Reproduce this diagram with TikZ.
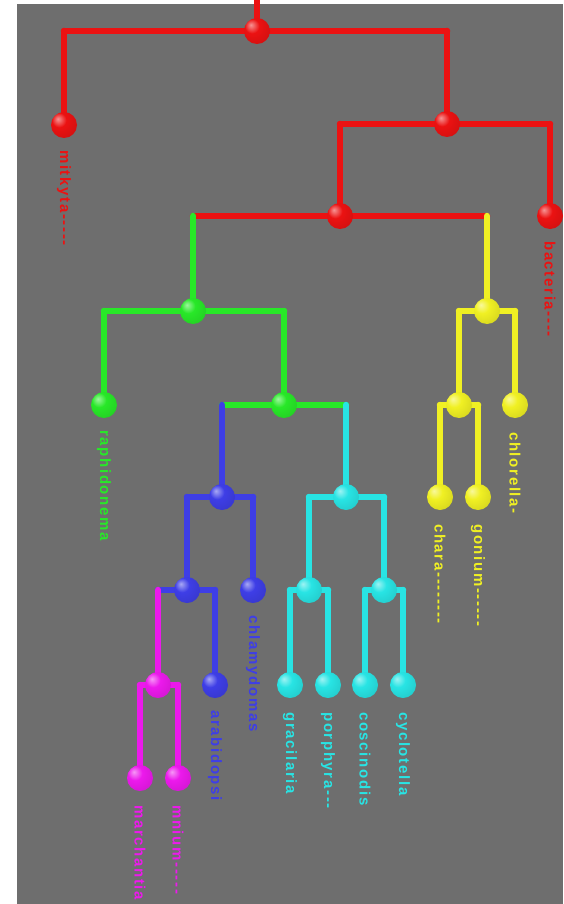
\documentclass[tikz,border=0pt]{standalone}
\usepackage{fontspec}
\setmainfont{Liberation Sans}
\newfontfamily\lblfont[LetterSpace=11]{Liberation Sans Bold}
\definecolor{bgray}{RGB}{110,110,110}
\definecolor{cred}{RGB}{235,18,18}
\definecolor{cgreen}{RGB}{40,232,40}
\definecolor{cyel}{RGB}{240,240,35}
\definecolor{cblue}{RGB}{62,62,230}
\definecolor{ccyan}{RGB}{40,228,228}
\definecolor{cmag}{RGB}{236,25,236}
\makeatletter
\pgfdeclareradialshading[tikz@ball]{myball}{\pgfqpoint{-12bp}{12bp}}{%
  color(0bp)=(tikz@ball!45!white);
  color(14bp)=(tikz@ball);
  color(38bp)=(tikz@ball!88!black);
  color(52bp)=(tikz@ball!60!black);
  color(70bp)=(tikz@ball!45!black)}
\makeatother
\pgfdeclarelayer{back}
\pgfdeclarelayer{lines}
\pgfsetlayers{back,lines,main}
\tikzset{
  ballnode/.style={circle, inner sep=0pt, minimum size=26pt, ball color=#1, shading=myball},
  br/.style={line width=6.5pt, line cap=round, line join=round},
  lbl/.style={rotate=-90, anchor=west, inner sep=0pt, text=#1,
    font=\lblfont\fontsize{15}{15}\selectfont}
}
\newcommand\branch[4]{%
  \begin{pgfonlayer}{lines}
    \draw[br,#3] (#1.center) -- (#1.center -| #2.center);
    \draw[br,#4] (#1.center -| #2.center) -- (#2.center);
  \end{pgfonlayer}}
\begin{document}
\begin{tikzpicture}[x=1pt,y=-1pt]
\useasboundingbox (0,0) rectangle (563,904);
\clip (0,0) rectangle (563,904);
\begin{pgfonlayer}{back}
  \fill[bgray] (17,4) rectangle (563,904);
\end{pgfonlayer}
% red clade
\node[ballnode=cred] (r0) at (257,31) {};
\node[ballnode=cred] (rl) at (64,125) {};
\node[ballnode=cred] (r1) at (447,124) {};
\node[ballnode=cred] (rr) at (550,216) {};
\node[ballnode=cred] (r2) at (340,216) {};
% green
\node[ballnode=cgreen] (g1) at (193,311) {};
\node[ballnode=cgreen] (gl) at (104,405) {};
\node[ballnode=cgreen] (g2) at (284,405) {};
% yellow
\node[ballnode=cyel] (y1) at (487,311) {};
\node[ballnode=cyel] (y2) at (459,405) {};
\node[ballnode=cyel] (yr) at (515,405) {};
\node[ballnode=cyel] (ya) at (440,497) {};
\node[ballnode=cyel] (yb) at (478,497) {};
% blue
\node[ballnode=cblue] (b1) at (222,497) {};
\node[ballnode=cblue] (br) at (253,590) {};
\node[ballnode=cblue] (b2) at (187,590) {};
\node[ballnode=cblue] (bl) at (215,685) {};
% magenta
\node[ballnode=cmag] (m1) at (158,685) {};
\node[ballnode=cmag] (ma) at (140,778) {};
\node[ballnode=cmag] (mb) at (178,778) {};
% cyan
\node[ballnode=ccyan] (c1) at (346,497) {};
\node[ballnode=ccyan] (c2) at (309,590) {};
\node[ballnode=ccyan] (c3) at (384,590) {};
\node[ballnode=ccyan] (ca) at (290,685) {};
\node[ballnode=ccyan] (cb) at (328,685) {};
\node[ballnode=ccyan] (cc) at (365,685) {};
\node[ballnode=ccyan] (cd) at (403,685) {};
% connectors
\coordinate (top) at (257,0);
\begin{pgfonlayer}{lines}
  \draw[br,cred] (top) -- (r0);
\end{pgfonlayer}
\branch{r0}{rl}{cred}{cred}
\branch{r0}{r1}{cred}{cred}
\branch{r1}{r2}{cred}{cred}
\branch{r1}{rr}{cred}{cred}
\branch{r2}{g1}{cred}{cgreen}
\branch{r2}{y1}{cred}{cyel}
\branch{g1}{gl}{cgreen}{cgreen}
\branch{g1}{g2}{cgreen}{cgreen}
\branch{y1}{y2}{cyel}{cyel}
\branch{y1}{yr}{cyel}{cyel}
\branch{y2}{ya}{cyel}{cyel}
\branch{y2}{yb}{cyel}{cyel}
\branch{g2}{b1}{cgreen}{cblue}
\branch{g2}{c1}{cgreen}{ccyan}
\branch{b1}{b2}{cblue}{cblue}
\branch{b1}{br}{cblue}{cblue}
\branch{b2}{m1}{cblue}{cmag}
\branch{b2}{bl}{cblue}{cblue}
\branch{m1}{ma}{cmag}{cmag}
\branch{m1}{mb}{cmag}{cmag}
\branch{c1}{c2}{ccyan}{ccyan}
\branch{c1}{c3}{ccyan}{ccyan}
\branch{c2}{ca}{ccyan}{ccyan}
\branch{c2}{cb}{ccyan}{ccyan}
\branch{c3}{cc}{ccyan}{ccyan}
\branch{c3}{cd}{ccyan}{ccyan}
% labels
\node[lbl=cred] (t-rl) at ([yshift=-25pt]rl.center) {mitkyta-----};
\node[lbl=cred] (t-rr) at ([yshift=-25pt]rr.center) {bacteria----};
\node[lbl=cgreen] (t-gl) at ([yshift=-25pt]gl.center) {raphidonema};
\node[lbl=cyel] (t-yr) at ([yshift=-27pt]yr.center) {chlorella-};
\node[lbl=cyel] (t-ya) at ([yshift=-27pt]ya.center) {chara--------};
\node[lbl=cyel] (t-yb) at ([yshift=-27pt]yb.center) {gonium------};
\node[lbl=cblue] (t-br) at ([yshift=-25pt]br.center) {chlamydomas};
\node[lbl=cblue] (t-bl) at ([yshift=-25pt]bl.center) {arabidopsi};
\node[lbl=ccyan] (t-ca) at ([yshift=-27pt]ca.center) {gracilaria};
\node[lbl=ccyan] (t-cb) at ([yshift=-27pt]cb.center) {porphyra---};
\node[lbl=ccyan] (t-cc) at ([yshift=-27pt]cc.center) {coscinodis};
\node[lbl=ccyan] (t-cd) at ([yshift=-27pt]cd.center) {cyclotella};
\node[lbl=cmag] (t-ma) at ([yshift=-27pt]ma.center) {marchantia};
\node[lbl=cmag] (t-mb) at ([yshift=-27pt]mb.center) {mnium-----};
\end{tikzpicture}
\end{document}
